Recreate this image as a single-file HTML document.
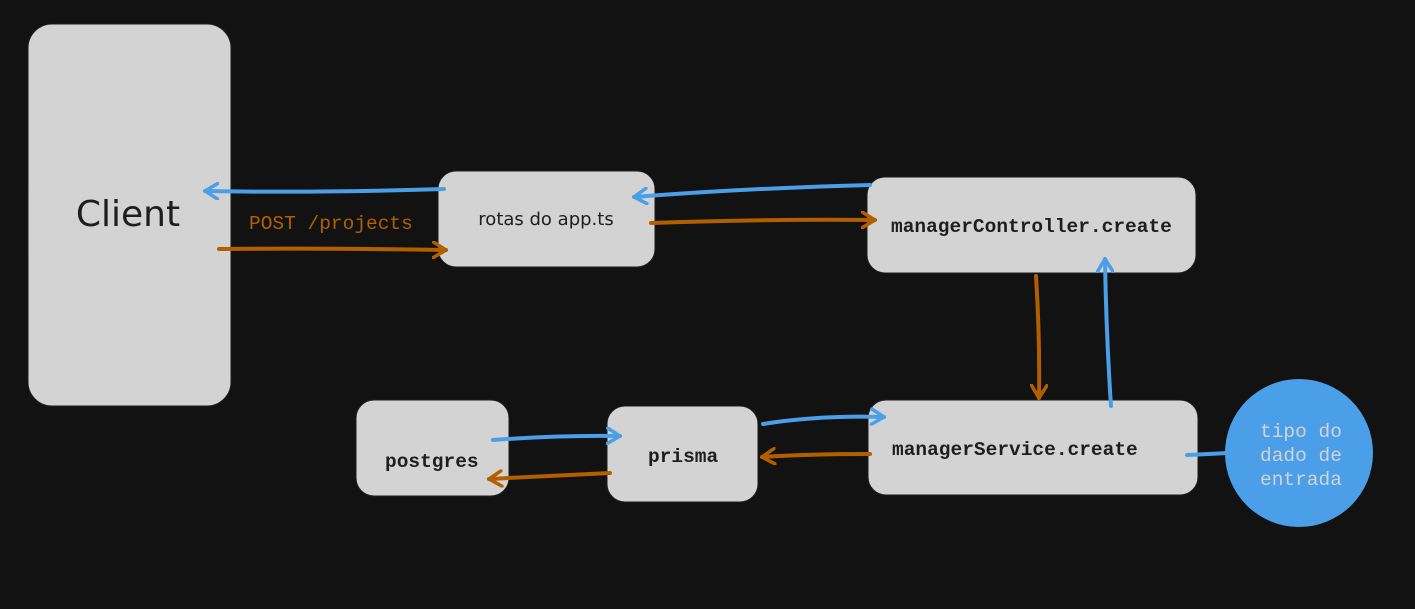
<!DOCTYPE html>
<html><head><meta charset="utf-8"><style>
html,body{margin:0;padding:0;background:#121212;}
svg{display:block}
.m{font-family:"Liberation Mono","DejaVu Sans Mono",monospace;font-weight:bold;font-size:19.5px;fill:#1e1e1e}
.h{font-family:"DejaVu Sans","Liberation Sans",sans-serif;fill:#1e1e1e}
</style></head><body>
<svg width="1415" height="609" viewBox="0 0 1415 609" xmlns="http://www.w3.org/2000/svg">
<defs>
<marker id="ab" markerWidth="16" markerHeight="18" refX="14" refY="9" orient="auto" markerUnits="userSpaceOnUse"><path d="M1,1 L14,9 L1,17" fill="none" stroke="#4a9fe8" stroke-width="3.5" stroke-linecap="round"/></marker>
<marker id="ao" markerWidth="16" markerHeight="18" refX="14" refY="9" orient="auto" markerUnits="userSpaceOnUse"><path d="M1,1 L14,9 L1,17" fill="none" stroke="#b35f00" stroke-width="3.5" stroke-linecap="round"/></marker>
</defs>
<rect width="1415" height="609" fill="#121212"/>
<g fill="#d3d3d3" stroke="#1e1e1e" stroke-width="1">
<rect x="28" y="24" width="203" height="382" rx="24"/>
<rect x="438" y="171" width="217" height="96" rx="18"/>
<rect x="867" y="177" width="329" height="96" rx="18"/>
<rect x="356" y="400" width="153" height="96" rx="18"/>
<rect x="607" y="406" width="151" height="96" rx="18"/>
<rect x="868" y="400" width="330" height="95" rx="18"/>
</g>
<circle cx="1299" cy="453" r="74" fill="#4a9fe8"/>
<text x="128" y="226" class="h" font-size="36" text-anchor="middle">Client</text>
<text x="546" y="225" class="h" font-size="18" text-anchor="middle">rotas do app.ts</text>
<text x="891" y="232" class="m">managerController.create</text>
<text x="385" y="467" class="m">postgres</text>
<text x="648" y="462" class="m">prisma</text>
<text x="892" y="455" class="m">managerService.create</text>
<g font-family="Liberation Mono,monospace" font-size="19.5" fill="#d3d3d3">
<text x="1260" y="437">tipo do</text><text x="1260" y="461">dado de</text><text x="1260" y="485">entrada</text>
</g>
<text x="249" y="229" font-family="Liberation Mono,monospace" font-size="19.5" fill="#b35f00">POST /projects</text>
<g fill="none" stroke-width="4" stroke-linecap="round">
<path d="M444,189 Q320,193 205,191" stroke="#4a9fe8" marker-end="url(#ab)"/>
<path d="M219,249 Q330,248 446,250" stroke="#b35f00" marker-end="url(#ao)"/>
<path d="M870,185 Q750,188 634,197" stroke="#4a9fe8" marker-end="url(#ab)"/>
<path d="M651,223 Q760,219 875,220" stroke="#b35f00" marker-end="url(#ao)"/>
<path d="M1036,276 Q1040,340 1039,398" stroke="#b35f00" marker-end="url(#ao)"/>
<path d="M1111,406 Q1106,330 1105,259" stroke="#4a9fe8" marker-end="url(#ab)"/>
<path d="M763,424 Q820,415 884,417" stroke="#4a9fe8" marker-end="url(#ab)"/>
<path d="M870,454 Q810,454 762,457" stroke="#b35f00" marker-end="url(#ao)"/>
<path d="M493,440 Q560,435 620,436" stroke="#4a9fe8" marker-end="url(#ab)"/>
<path d="M610,473 Q550,476 489,479" stroke="#b35f00" marker-end="url(#ao)"/>
<path d="M1187,455 Q1210,454 1228,453" stroke="#4a9fe8"/>
</g>
</svg>
</body></html>
